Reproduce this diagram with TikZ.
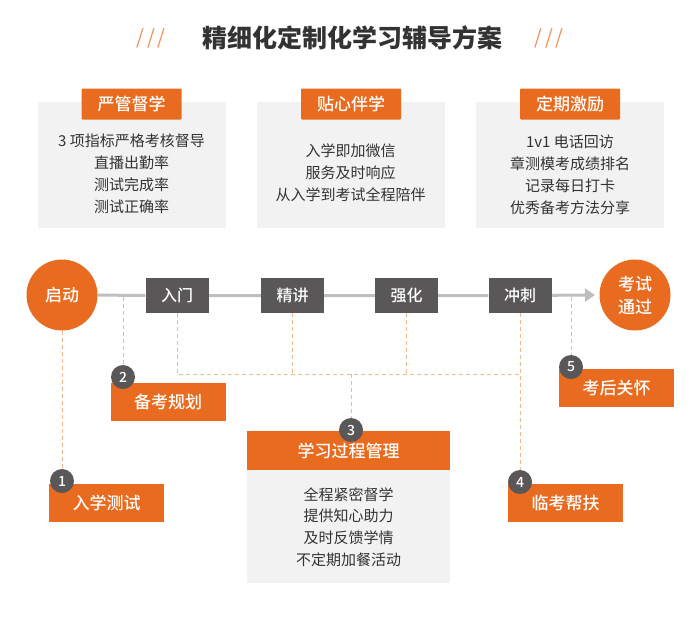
\documentclass[tikz,border=0pt]{standalone}
\usepackage{fontspec}
\setmainfont{Noto Sans CJK SC}
\newfontfamily\medfont{Noto Sans CJK SC Medium}
\usetikzlibrary{positioning,arrows.meta,backgrounds}

\definecolor{mainorange}{HTML}{E86B1F}
\definecolor{darkbox}{HTML}{595757}
\definecolor{panelgrey}{HTML}{F2F2F2}
\definecolor{linegrey}{HTML}{BFBFBF}
\definecolor{dashorange}{HTML}{F5B68A}
\definecolor{textdark}{HTML}{333333}

\tikzset{
  titletext/.style={text=textdark, font=\fontsize{25}{30}\selectfont\bfseries},
  slashes/.style={text=mainorange!75, font=\fontsize{20}{24}\selectfont},
  panel/.style={fill=panelgrey, minimum width=188pt, minimum height=126pt, inner sep=0pt},
  tab/.style={fill=mainorange, text=white, minimum width=100pt, minimum height=31pt,
    inner sep=0pt, rounded corners=1pt, font=\fontsize{17}{20}\selectfont\medfont},
  listtext/.style={text=textdark, align=center, font=\fontsize{15}{22}\selectfont},
  stage/.style={fill=darkbox, text=white, minimum width=63pt, minimum height=35pt,
    inner sep=0pt, font=\fontsize{16}{18}\selectfont\medfont},
  endpoint/.style={circle, fill=mainorange, text=white, minimum size=71pt, inner sep=0pt,
    align=center, font=\fontsize{17}{23}\selectfont\medfont},
  markbox/.style={fill=mainorange, text=white, minimum width=115pt, minimum height=38pt,
    inner sep=0pt, font=\fontsize{17}{20}\selectfont\medfont},
  numdot/.style={circle, fill=darkbox, text=white, minimum size=24pt, inner sep=0pt,
    font=\fontsize{14}{14}\selectfont\medfont},
  tline/.style={linegrey, line width=3pt},
  dashline/.style={dashorange, line width=0.9pt, dash pattern=on 4pt off 3pt}
}

\begin{document}
\begin{tikzpicture}[x=1pt,y=-1pt]
    \useasboundingbox (0,0) rectangle (698,624);

    %Title
    \node[titletext] (title) at (352,38) {精细化定制化学习辅导方案};
    \node[slashes] (lslash) at (151,38) {/\hspace{3pt}/\hspace{3pt}/};
    \node[slashes] (rslash) at (549,38) {/\hspace{3pt}/\hspace{3pt}/};

    %Panels
    \node[panel] (panel1) at (131.5,165) {};
    \node[panel] (panel2) at (350.5,165) {};
    \node[panel] (panel3) at (570,165) {};
    \node[tab] (tab1) at (131.5,104) {严管督学};
    \node[tab] (tab2) at (351,104) {贴心伴学};
    \node[tab] (tab3) at (570,104) {定期激励};
    \node[listtext] (list1) at (131.5,174) {3 项指标严格考核督导\\直播出勤率\\测试完成率\\测试正确率};
    \node[listtext] (list2) at (350.5,173) {入学即加微信\\服务及时响应\\从入学到考试全程陪伴};
    \node[listtext] (list3) at (570,175) {1v1 电话回访\\章测模考成绩排名\\记录每日打卡\\优秀备考方法分享};

    %Timeline
    \node[endpoint] (start) at (62,295) {启动};
    \node[stage] (s1) at (177,295.5) {入门};
    \node[stage] (s2) at (292.5,295.5) {精讲};
    \node[stage] (s3) at (406.5,295.5) {强化};
    \node[stage] (s4) at (520,295.5) {冲刺};
    \node[endpoint] (finish) at (635,295) {考试\\通过};
    \coordinate (tip) at (595,295);
    \coordinate (t2) at (123,297);
    \coordinate (t5) at (571,297);
    \coordinate (hub) at (351,374);
    \coordinate (hubR) at (520,374);

    %Steps
    \node[markbox] (m1) at (106.5,502.5) {入学测试};
    \node[markbox] (m2) at (168,401.5) {备考规划};
    \node[markbox, minimum width=203pt, minimum height=39pt] (m3) at (348.5,450.5) {学习过程管理};
    \node[panel, minimum width=203pt, minimum height=113pt] (body3) at (348.5,526.5) {};
    \node[listtext, font=\fontsize{15}{21.7}\selectfont] (list4) at (348.5,527) {全程紧密督学\\提供知心助力\\及时反馈学情\\不定期加餐活动};
    \node[markbox] (m4) at (565.5,503) {临考帮扶};
    \node[markbox] (m5) at (616.5,388) {考后关怀};
    \node[numdot] (n1) at (62,481) {1};
    \node[numdot] (n2) at (123,377) {2};
    \node[numdot] (n3) at (351,430) {3};
    \node[numdot] (n4) at (520,482) {4};
    \node[numdot] (n5) at (571,367) {5};

    \begin{scope}[on background layer]
        \draw[tline] (start) -- (s1) -- (s2) -- (s3) -- (s4);
        \draw[tline,-{Triangle[length=10pt,width=13pt]}] (s4) -- (tip);
        \draw[dashline] (start) -- (n1);
        \draw[dashline] (t2) -- (n2);
        \draw[dashline] (s1) |- (hubR);
        \draw[dashline] (s2) -- (s2 |- hub);
        \draw[dashline] (s3) -- (s3 |- hub);
        \draw[dashline] (s4) -- (n4);
        \draw[dashline] (hub) -- (n3);
        \draw[dashline] (t5) -- (n5);
    \end{scope}
\end{tikzpicture}
\end{document}
